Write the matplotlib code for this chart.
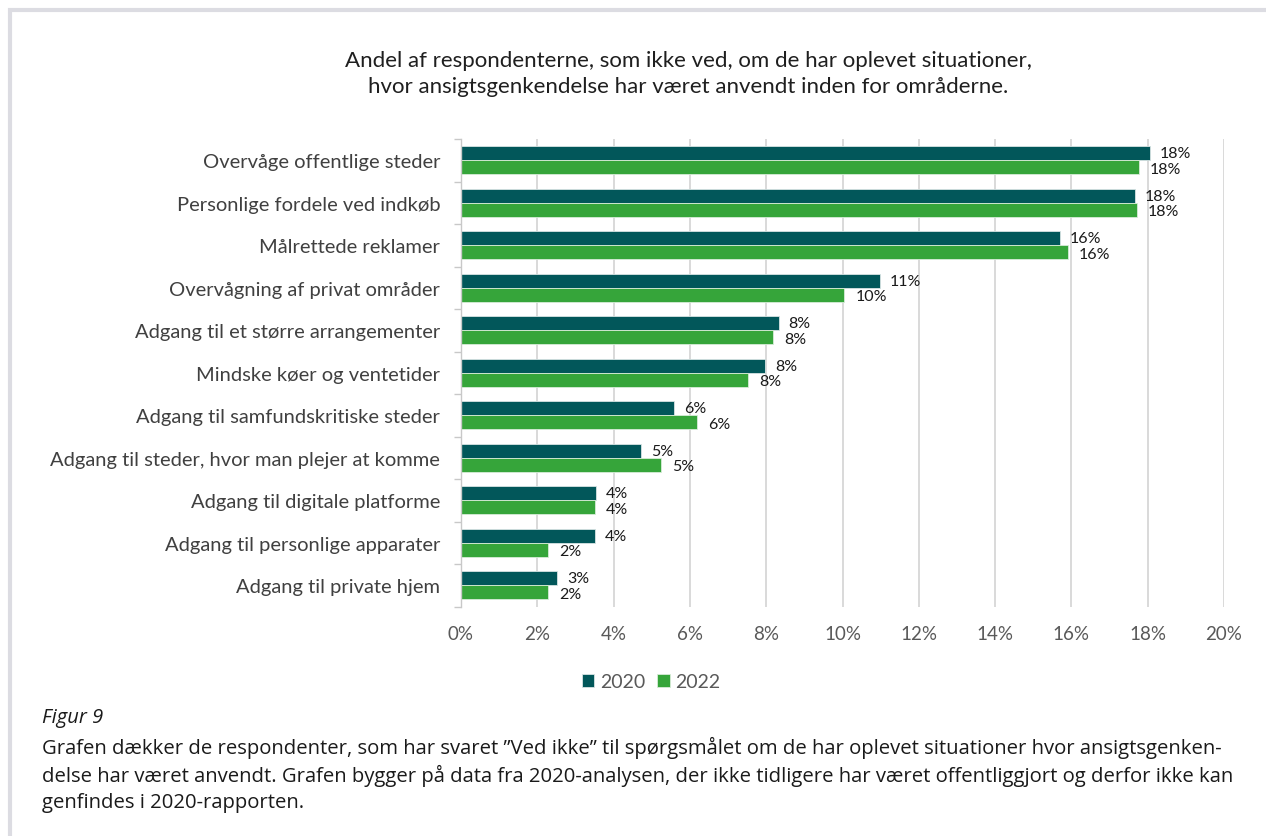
import matplotlib
matplotlib.use("Agg")
import matplotlib.pyplot as plt
from matplotlib.patches import Rectangle
from matplotlib.ticker import FixedLocator, PercentFormatter
import numpy as np

categories = [
    "Overvåge offentlige steder",
    "Personlige fordele ved indkøb",
    "Målrettede reklamer",
    "Overvågning af privat områder",
    "Adgang til et større arrangementer",
    "Mindske køer og ventetider",
    "Adgang til samfundskritiske steder",
    "Adgang til steder, hvor man plejer at komme",
    "Adgang til digitale platforme",
    "Adgang til personlige apparater",
    "Adgang til private hjem",
]
values_2020 = [18.07, 17.66, 15.71, 10.97, 8.33, 7.98, 5.59, 4.73, 3.54, 3.51, 2.52]
values_2022 = [17.76, 17.72, 15.90, 10.05, 8.17, 7.52, 6.19, 5.23, 3.51, 2.29, 2.29]
series_names = ["2020", "2022"]
xticks = [0, 2, 4, 6, 8, 10, 12, 14, 16, 18, 20]

c2020 = "#02575A"
c2022 = "#36A53A"
label_font = "Lato"

W, H = 1266, 837
fig = plt.figure(figsize=(W / 100, H / 100), dpi=100)
fig.patch.set_facecolor("white")

# outer frame
fig.patches.append(Rectangle((10 / W, -0.1), 1.2, 1 - 11 / H + 0.1,
                             transform=fig.transFigure, fill=False,
                             edgecolor="#dcdce2", lw=3))

ax = fig.add_axes([461 / W, 1 - 607.5 / H, (1224 - 461) / W, 467.5 / H])
n = len(categories)
y = np.arange(n)
bh = 0.33
ax.barh(y - bh / 2, values_2020, height=bh, color=c2020, edgecolor="#d8e4e4",
        linewidth=0.6, label=series_names[0], zorder=3)
ax.barh(y + bh / 2, values_2022, height=bh, color=c2022, edgecolor="#d8ecd8",
        linewidth=0.6, label=series_names[1], zorder=3)

for i in range(n):
    ax.annotate(f"{round(values_2020[i])}%", (values_2020[i], y[i] - bh / 2),
                xytext=(7, 0), textcoords="offset points", va="center",
                ha="left", fontsize=11.5, color="#1a1a1a", family=label_font)
    ax.annotate(f"{round(values_2022[i])}%", (values_2022[i], y[i] + bh / 2),
                xytext=(8, -1), textcoords="offset points", va="center",
                ha="left", fontsize=11.5, color="#1a1a1a", family=label_font)

ax.set_ylim(n - 0.5, -0.5)
ax.set_xlim(0, 20)
ax.set_xticks(xticks)
ax.xaxis.set_major_formatter(PercentFormatter(decimals=0))
ax.set_yticks(y)
ax.set_yticklabels(categories)
ax.yaxis.set_minor_locator(FixedLocator(np.arange(-0.5, n, 1)))
ax.tick_params(axis="y", which="major", length=0, pad=15, labelsize=14.5,
               labelcolor="#404040")
ax.tick_params(axis="y", which="minor", length=5, color="#c8c8c8", width=1)
ax.tick_params(axis="x", length=0, pad=13, labelsize=13.5, labelcolor="#595959")
for lab in ax.get_yticklabels() + ax.get_xticklabels():
    lab.set_family(label_font)

ax.grid(axis="x", color="#d9d9d9", lw=1.4, zorder=0)
for s in ["top", "right", "bottom"]:
    ax.spines[s].set_visible(False)
ax.spines["left"].set_color("#c8c8c8")
ax.spines["left"].set_linewidth(1)
ax.spines["left"].set_zorder(4)

# title
fig.text(688 / W, 1 - 74 / H,
         "Andel af respondenterne, som ikke ved, om de har oplevet situationer,\n"
         "hvor ansigtsgenkendelse har været anvendt inden for områderne.",
         ha="center", va="center", fontsize=16, color="#1f1f1f",
         family=label_font, linespacing=1.35)

# legend
handles, labels = ax.get_legend_handles_labels()
leg = fig.legend(handles, labels, loc="center", bbox_to_anchor=(651 / W, 1 - 683 / H),
                 ncol=2, frameon=False, handlelength=0.65, handleheight=0.65,
                 handletextpad=0.3, columnspacing=0.6,
                 prop={"family": label_font, "size": 14})
for t in leg.get_texts():
    t.set_color("#595959")

# caption
fig.text(42 / W, 1 - 718 / H, "Figur 9", ha="left", va="center", fontsize=14.5,
         style="italic", color="#1a1a1a", family="Open Sans")
caption = ("Grafen dækker de respondenter, som har svaret \u201dVed ikke\u201d til spørgsmålet om de har oplevet situationer hvor ansigtsgenken-\n"
           "delse har været anvendt. Grafen bygger på data fra 2020-analysen, der ikke tidligere har været offentliggjort og derfor ikke kan\n"
           "genfindes i 2020-rapporten.")
fig.text(42 / W, 1 - 775 / H, caption, ha="left", va="center", fontsize=14.6,
         color="#1a1a1a", family="Open Sans", linespacing=1.36)

fig.savefig("out.png", dpi=100, facecolor="white")
